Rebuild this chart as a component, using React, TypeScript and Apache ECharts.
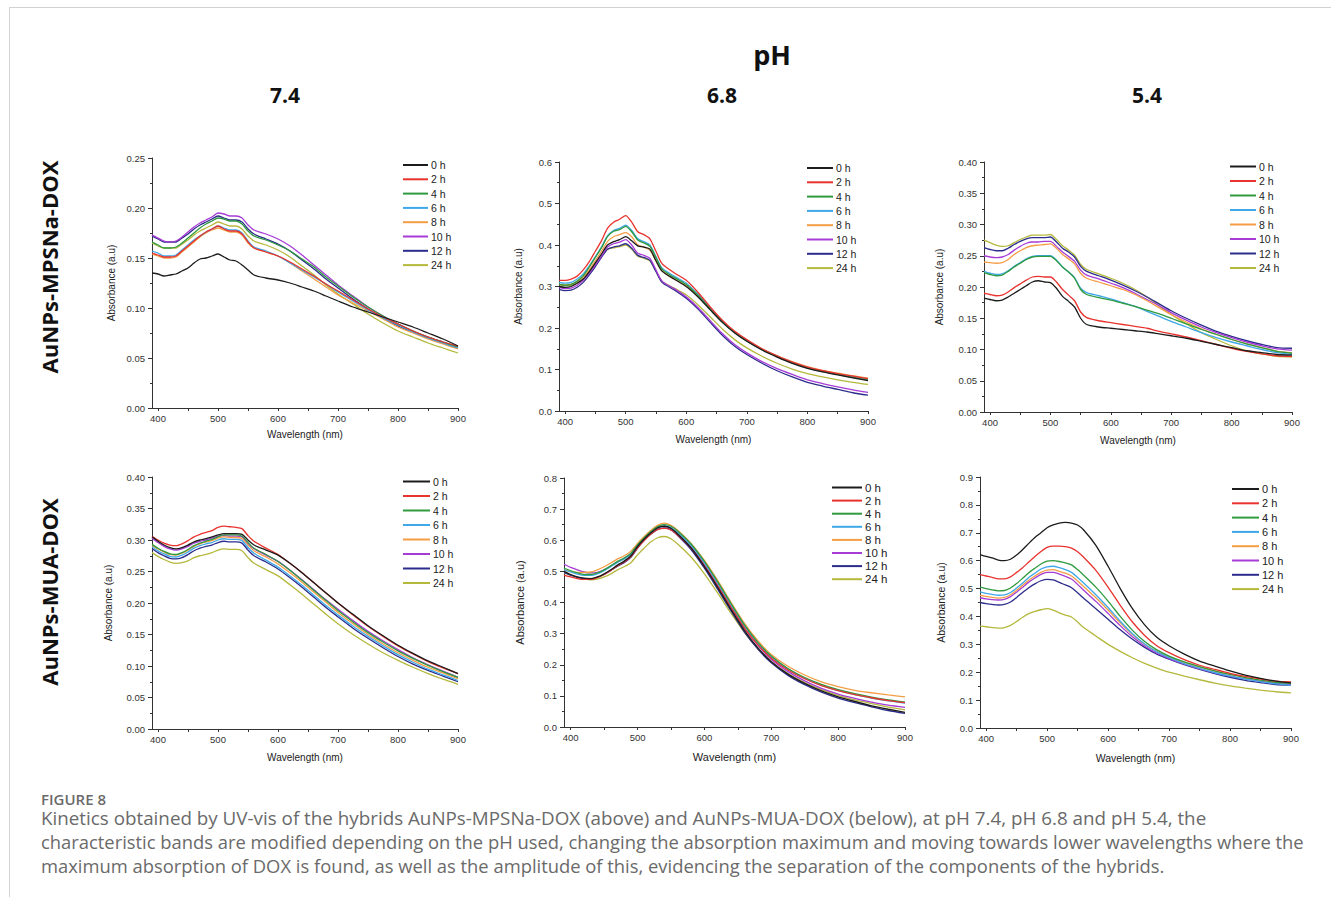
import React, { useEffect, useRef } from "react";
import * as echarts from "echarts";

// ---------- DATA ----------
const wavelengths = [390, 400, 410, 420, 430, 440, 450, 460, 470, 480, 490, 500, 510, 520, 530, 540, 550, 560, 580, 600, 620, 640, 660, 680, 700, 725, 750, 775, 800, 825, 850, 875, 900];
const timeLabels = ["0 h", "2 h", "4 h", "6 h", "8 h", "10 h", "12 h", "24 h"];
const xTickLabels = [400, 500, 600, 700, 800, 900];
const xTicks = [400, 450, 500, 550, 600, 650, 700, 750, 800, 850, 900];
const columnLabels = ["7.4", "6.8", "5.4"];
const rowLabels = ["AuNPs-MPSNa-DOX", "AuNPs-MUA-DOX"];

// AuNPs-MPSNa-DOX, pH 7.4 (order: 0,2,4,6,8,10,12,24 h)
const mpsnaPH74 = [
  [0.135, 0.134, 0.132, 0.133, 0.134, 0.137, 0.140, 0.145, 0.149, 0.150, 0.152, 0.154, 0.151, 0.148, 0.147, 0.143, 0.138, 0.133, 0.130, 0.128, 0.125, 0.121, 0.117, 0.112, 0.107, 0.101, 0.096, 0.091, 0.086, 0.081, 0.075, 0.069, 0.062],
  [0.155, 0.153, 0.151, 0.151, 0.152, 0.157, 0.162, 0.167, 0.172, 0.176, 0.179, 0.182, 0.179, 0.177, 0.177, 0.174, 0.166, 0.160, 0.156, 0.152, 0.146, 0.139, 0.132, 0.124, 0.117, 0.108, 0.099, 0.091, 0.084, 0.077, 0.071, 0.066, 0.062],
  [0.166, 0.163, 0.160, 0.160, 0.161, 0.165, 0.170, 0.175, 0.180, 0.184, 0.187, 0.190, 0.189, 0.187, 0.187, 0.184, 0.177, 0.172, 0.168, 0.163, 0.157, 0.149, 0.141, 0.131, 0.122, 0.111, 0.101, 0.092, 0.084, 0.077, 0.071, 0.066, 0.061],
  [0.157, 0.155, 0.152, 0.152, 0.153, 0.158, 0.163, 0.168, 0.172, 0.176, 0.179, 0.182, 0.180, 0.178, 0.178, 0.175, 0.167, 0.161, 0.157, 0.152, 0.145, 0.138, 0.131, 0.124, 0.116, 0.107, 0.098, 0.090, 0.083, 0.076, 0.070, 0.065, 0.060],
  [0.154, 0.152, 0.150, 0.150, 0.151, 0.156, 0.161, 0.166, 0.171, 0.175, 0.178, 0.180, 0.178, 0.176, 0.176, 0.173, 0.165, 0.160, 0.156, 0.152, 0.145, 0.137, 0.129, 0.121, 0.113, 0.105, 0.097, 0.089, 0.081, 0.075, 0.069, 0.064, 0.059],
  [0.173, 0.170, 0.167, 0.166, 0.167, 0.171, 0.176, 0.181, 0.185, 0.188, 0.191, 0.195, 0.194, 0.192, 0.192, 0.190, 0.183, 0.178, 0.174, 0.169, 0.162, 0.153, 0.143, 0.133, 0.123, 0.112, 0.101, 0.092, 0.084, 0.077, 0.071, 0.066, 0.061],
  [0.172, 0.169, 0.166, 0.166, 0.166, 0.170, 0.174, 0.179, 0.183, 0.186, 0.189, 0.192, 0.190, 0.188, 0.188, 0.186, 0.179, 0.174, 0.169, 0.164, 0.157, 0.148, 0.139, 0.129, 0.120, 0.109, 0.099, 0.090, 0.082, 0.076, 0.070, 0.065, 0.060],
  [0.165, 0.162, 0.160, 0.160, 0.160, 0.164, 0.168, 0.173, 0.177, 0.180, 0.183, 0.186, 0.184, 0.182, 0.182, 0.179, 0.172, 0.167, 0.163, 0.158, 0.151, 0.142, 0.133, 0.123, 0.114, 0.104, 0.094, 0.085, 0.077, 0.071, 0.065, 0.060, 0.055],
];

// AuNPs-MPSNa-DOX, pH 6.8
const mpsnaPH68 = [
  [0.300, 0.298, 0.300, 0.308, 0.318, 0.336, 0.357, 0.378, 0.400, 0.408, 0.413, 0.420, 0.410, 0.398, 0.395, 0.390, 0.362, 0.337, 0.318, 0.300, 0.274, 0.243, 0.213, 0.188, 0.168, 0.147, 0.130, 0.115, 0.103, 0.094, 0.087, 0.080, 0.073],
  [0.315, 0.315, 0.318, 0.325, 0.340, 0.360, 0.385, 0.410, 0.440, 0.455, 0.462, 0.471, 0.455, 0.432, 0.425, 0.415, 0.385, 0.355, 0.333, 0.315, 0.285, 0.250, 0.218, 0.192, 0.172, 0.150, 0.133, 0.118, 0.106, 0.097, 0.090, 0.084, 0.078],
  [0.305, 0.303, 0.305, 0.313, 0.326, 0.347, 0.370, 0.393, 0.420, 0.433, 0.437, 0.445, 0.432, 0.412, 0.405, 0.397, 0.370, 0.342, 0.322, 0.305, 0.278, 0.245, 0.214, 0.189, 0.169, 0.148, 0.131, 0.116, 0.104, 0.095, 0.088, 0.081, 0.075],
  [0.310, 0.308, 0.310, 0.318, 0.330, 0.350, 0.372, 0.395, 0.422, 0.435, 0.440, 0.448, 0.435, 0.415, 0.408, 0.400, 0.372, 0.345, 0.325, 0.308, 0.280, 0.247, 0.215, 0.190, 0.170, 0.149, 0.132, 0.117, 0.105, 0.096, 0.089, 0.083, 0.077],
  [0.305, 0.303, 0.305, 0.312, 0.322, 0.340, 0.362, 0.385, 0.408, 0.420, 0.425, 0.430, 0.420, 0.400, 0.395, 0.388, 0.362, 0.338, 0.318, 0.302, 0.276, 0.245, 0.215, 0.190, 0.170, 0.150, 0.133, 0.119, 0.107, 0.098, 0.091, 0.085, 0.079],
  [0.298, 0.295, 0.296, 0.303, 0.315, 0.332, 0.352, 0.373, 0.395, 0.403, 0.407, 0.413, 0.400, 0.380, 0.375, 0.368, 0.340, 0.313, 0.295, 0.275, 0.248, 0.217, 0.186, 0.160, 0.140, 0.119, 0.102, 0.088, 0.075, 0.066, 0.058, 0.051, 0.045],
  [0.293, 0.290, 0.291, 0.298, 0.310, 0.328, 0.348, 0.370, 0.390, 0.395, 0.398, 0.403, 0.392, 0.375, 0.370, 0.363, 0.336, 0.310, 0.292, 0.272, 0.245, 0.213, 0.182, 0.156, 0.136, 0.115, 0.097, 0.082, 0.069, 0.060, 0.052, 0.044, 0.038],
  [0.305, 0.302, 0.303, 0.308, 0.318, 0.335, 0.354, 0.373, 0.390, 0.393, 0.396, 0.400, 0.390, 0.373, 0.368, 0.362, 0.337, 0.313, 0.296, 0.280, 0.255, 0.226, 0.197, 0.172, 0.152, 0.132, 0.115, 0.101, 0.090, 0.082, 0.075, 0.069, 0.064],
];

// AuNPs-MPSNa-DOX, pH 5.4
const mpsnaPH54 = [
  [0.182, 0.180, 0.178, 0.179, 0.184, 0.190, 0.196, 0.202, 0.208, 0.210, 0.208, 0.207, 0.198, 0.185, 0.177, 0.168, 0.150, 0.140, 0.136, 0.134, 0.132, 0.130, 0.128, 0.125, 0.122, 0.118, 0.113, 0.108, 0.103, 0.098, 0.095, 0.092, 0.091],
  [0.190, 0.188, 0.186, 0.187, 0.192, 0.199, 0.205, 0.211, 0.216, 0.217, 0.216, 0.216, 0.208, 0.196, 0.187, 0.178, 0.160, 0.151, 0.146, 0.143, 0.140, 0.137, 0.134, 0.129, 0.125, 0.120, 0.114, 0.108, 0.102, 0.097, 0.093, 0.090, 0.089],
  [0.223, 0.220, 0.218, 0.219, 0.225, 0.232, 0.238, 0.244, 0.248, 0.249, 0.249, 0.249, 0.242, 0.232, 0.224, 0.214, 0.196, 0.188, 0.183, 0.179, 0.174, 0.169, 0.163, 0.157, 0.150, 0.141, 0.132, 0.124, 0.116, 0.109, 0.103, 0.097, 0.094],
  [0.225, 0.222, 0.220, 0.221, 0.226, 0.233, 0.239, 0.245, 0.249, 0.250, 0.250, 0.250, 0.243, 0.232, 0.224, 0.215, 0.198, 0.191, 0.186, 0.181, 0.175, 0.169, 0.161, 0.153, 0.145, 0.136, 0.127, 0.119, 0.112, 0.106, 0.100, 0.095, 0.092],
  [0.240, 0.239, 0.238, 0.239, 0.244, 0.252, 0.258, 0.263, 0.266, 0.267, 0.268, 0.269, 0.262, 0.252, 0.245, 0.237, 0.222, 0.214, 0.208, 0.202, 0.196, 0.188, 0.178, 0.167, 0.156, 0.144, 0.133, 0.124, 0.116, 0.109, 0.103, 0.097, 0.095],
  [0.250, 0.248, 0.247, 0.248, 0.252, 0.259, 0.265, 0.270, 0.272, 0.272, 0.273, 0.273, 0.265, 0.256, 0.249, 0.241, 0.227, 0.219, 0.213, 0.206, 0.199, 0.190, 0.180, 0.170, 0.159, 0.147, 0.136, 0.127, 0.119, 0.112, 0.106, 0.101, 0.099],
  [0.263, 0.260, 0.258, 0.258, 0.262, 0.268, 0.273, 0.277, 0.279, 0.279, 0.279, 0.280, 0.272, 0.262, 0.256, 0.248, 0.233, 0.225, 0.218, 0.211, 0.203, 0.194, 0.184, 0.173, 0.162, 0.150, 0.139, 0.129, 0.121, 0.114, 0.108, 0.103, 0.102],
  [0.275, 0.271, 0.267, 0.265, 0.266, 0.271, 0.276, 0.280, 0.283, 0.283, 0.283, 0.284, 0.276, 0.266, 0.259, 0.251, 0.236, 0.228, 0.221, 0.214, 0.206, 0.196, 0.184, 0.170, 0.156, 0.141, 0.127, 0.116, 0.106, 0.098, 0.093, 0.089, 0.088],
];

// AuNPs-MUA-DOX, pH 7.4
const muaPH74 = [
  [0.305, 0.298, 0.292, 0.288, 0.286, 0.288, 0.292, 0.297, 0.300, 0.302, 0.305, 0.308, 0.310, 0.310, 0.310, 0.309, 0.300, 0.292, 0.284, 0.276, 0.263, 0.248, 0.232, 0.216, 0.200, 0.182, 0.164, 0.148, 0.133, 0.120, 0.108, 0.098, 0.088],
  [0.306, 0.300, 0.295, 0.292, 0.291, 0.294, 0.299, 0.305, 0.309, 0.312, 0.315, 0.320, 0.322, 0.321, 0.320, 0.318, 0.307, 0.298, 0.287, 0.277, 0.263, 0.248, 0.232, 0.216, 0.200, 0.181, 0.163, 0.147, 0.132, 0.119, 0.107, 0.097, 0.088],
  [0.293, 0.287, 0.282, 0.278, 0.277, 0.280, 0.285, 0.291, 0.295, 0.298, 0.301, 0.305, 0.308, 0.308, 0.308, 0.306, 0.296, 0.287, 0.277, 0.266, 0.252, 0.236, 0.220, 0.204, 0.188, 0.170, 0.153, 0.138, 0.124, 0.112, 0.101, 0.091, 0.082],
  [0.289, 0.283, 0.278, 0.274, 0.273, 0.276, 0.281, 0.287, 0.291, 0.294, 0.296, 0.300, 0.302, 0.301, 0.301, 0.299, 0.288, 0.279, 0.268, 0.257, 0.243, 0.228, 0.212, 0.196, 0.181, 0.163, 0.147, 0.132, 0.118, 0.106, 0.095, 0.086, 0.077],
  [0.291, 0.286, 0.281, 0.277, 0.276, 0.279, 0.284, 0.290, 0.294, 0.297, 0.299, 0.303, 0.305, 0.304, 0.304, 0.302, 0.292, 0.283, 0.273, 0.262, 0.248, 0.233, 0.217, 0.201, 0.185, 0.167, 0.150, 0.135, 0.121, 0.109, 0.098, 0.089, 0.080],
  [0.303, 0.296, 0.290, 0.286, 0.284, 0.286, 0.290, 0.295, 0.298, 0.300, 0.303, 0.306, 0.307, 0.306, 0.306, 0.305, 0.294, 0.286, 0.276, 0.266, 0.252, 0.237, 0.221, 0.205, 0.190, 0.172, 0.155, 0.140, 0.126, 0.113, 0.102, 0.092, 0.082],
  [0.286, 0.280, 0.275, 0.271, 0.270, 0.272, 0.277, 0.283, 0.287, 0.290, 0.292, 0.296, 0.298, 0.297, 0.297, 0.295, 0.284, 0.275, 0.265, 0.254, 0.240, 0.225, 0.209, 0.193, 0.178, 0.160, 0.144, 0.129, 0.115, 0.103, 0.093, 0.084, 0.075],
  [0.280, 0.274, 0.269, 0.265, 0.263, 0.264, 0.267, 0.272, 0.275, 0.277, 0.280, 0.284, 0.286, 0.285, 0.285, 0.283, 0.272, 0.263, 0.253, 0.243, 0.229, 0.214, 0.198, 0.182, 0.167, 0.150, 0.135, 0.121, 0.109, 0.098, 0.088, 0.079, 0.071],
];

// AuNPs-MUA-DOX, pH 6.8
const muaPH68 = [
  [0.500, 0.490, 0.482, 0.478, 0.477, 0.482, 0.492, 0.505, 0.520, 0.533, 0.550, 0.580, 0.604, 0.624, 0.640, 0.645, 0.638, 0.620, 0.575, 0.515, 0.448, 0.377, 0.310, 0.254, 0.210, 0.170, 0.140, 0.116, 0.097, 0.082, 0.068, 0.057, 0.047],
  [0.488, 0.482, 0.477, 0.474, 0.474, 0.480, 0.490, 0.503, 0.518, 0.530, 0.548, 0.576, 0.600, 0.620, 0.634, 0.638, 0.633, 0.617, 0.575, 0.518, 0.453, 0.384, 0.318, 0.264, 0.221, 0.183, 0.155, 0.133, 0.117, 0.104, 0.094, 0.085, 0.078],
  [0.510, 0.502, 0.495, 0.490, 0.490, 0.495, 0.505, 0.518, 0.532, 0.543, 0.558, 0.585, 0.608, 0.628, 0.644, 0.650, 0.645, 0.630, 0.588, 0.532, 0.466, 0.396, 0.328, 0.272, 0.228, 0.188, 0.159, 0.137, 0.120, 0.107, 0.096, 0.087, 0.080],
  [0.505, 0.498, 0.491, 0.487, 0.487, 0.492, 0.502, 0.515, 0.529, 0.540, 0.555, 0.582, 0.605, 0.625, 0.640, 0.646, 0.641, 0.625, 0.583, 0.527, 0.461, 0.391, 0.324, 0.268, 0.224, 0.185, 0.156, 0.134, 0.117, 0.104, 0.093, 0.084, 0.077],
  [0.505, 0.500, 0.497, 0.497, 0.498, 0.505, 0.515, 0.527, 0.540, 0.550, 0.565, 0.590, 0.612, 0.632, 0.648, 0.655, 0.648, 0.632, 0.590, 0.535, 0.470, 0.400, 0.333, 0.277, 0.233, 0.195, 0.167, 0.145, 0.130, 0.118, 0.110, 0.103, 0.097],
  [0.523, 0.513, 0.505, 0.498, 0.495, 0.497, 0.505, 0.517, 0.530, 0.542, 0.557, 0.583, 0.606, 0.626, 0.641, 0.645, 0.639, 0.622, 0.579, 0.521, 0.455, 0.385, 0.318, 0.262, 0.217, 0.178, 0.148, 0.124, 0.106, 0.092, 0.080, 0.070, 0.063],
  [0.497, 0.488, 0.481, 0.477, 0.476, 0.481, 0.490, 0.503, 0.517, 0.528, 0.545, 0.575, 0.600, 0.620, 0.635, 0.640, 0.633, 0.615, 0.570, 0.510, 0.442, 0.372, 0.305, 0.250, 0.206, 0.166, 0.136, 0.112, 0.093, 0.078, 0.065, 0.053, 0.044],
  [0.495, 0.488, 0.481, 0.476, 0.473, 0.475, 0.482, 0.492, 0.505, 0.515, 0.528, 0.553, 0.575, 0.595, 0.608, 0.612, 0.605, 0.588, 0.546, 0.492, 0.430, 0.365, 0.303, 0.252, 0.210, 0.172, 0.143, 0.120, 0.101, 0.087, 0.075, 0.064, 0.055],
];

// AuNPs-MUA-DOX, pH 5.4
const muaPH54 = [
  [0.622, 0.615, 0.610, 0.602, 0.600, 0.605, 0.620, 0.640, 0.662, 0.683, 0.700, 0.718, 0.728, 0.735, 0.737, 0.735, 0.728, 0.710, 0.655, 0.580, 0.500, 0.428, 0.370, 0.325, 0.295, 0.265, 0.240, 0.222, 0.205, 0.190, 0.178, 0.168, 0.162],
  [0.550, 0.545, 0.540, 0.535, 0.535, 0.542, 0.558, 0.575, 0.595, 0.615, 0.633, 0.648, 0.652, 0.652, 0.650, 0.645, 0.632, 0.612, 0.565, 0.505, 0.440, 0.380, 0.332, 0.295, 0.270, 0.245, 0.225, 0.210, 0.196, 0.185, 0.176, 0.168, 0.165],
  [0.505, 0.500, 0.495, 0.492, 0.493, 0.502, 0.518, 0.537, 0.557, 0.573, 0.588, 0.598, 0.600, 0.597, 0.592, 0.585, 0.568, 0.548, 0.505, 0.455, 0.400, 0.350, 0.310, 0.280, 0.258, 0.237, 0.220, 0.205, 0.192, 0.181, 0.172, 0.164, 0.160],
  [0.488, 0.483, 0.479, 0.476, 0.477, 0.486, 0.502, 0.520, 0.540, 0.555, 0.570, 0.578, 0.580, 0.575, 0.568, 0.558, 0.540, 0.520, 0.478, 0.432, 0.383, 0.338, 0.301, 0.273, 0.252, 0.231, 0.214, 0.199, 0.186, 0.175, 0.166, 0.158, 0.153],
  [0.476, 0.472, 0.468, 0.466, 0.468, 0.478, 0.494, 0.512, 0.530, 0.545, 0.558, 0.566, 0.568, 0.562, 0.555, 0.545, 0.527, 0.507, 0.467, 0.423, 0.377, 0.335, 0.300, 0.274, 0.255, 0.235, 0.218, 0.204, 0.192, 0.181, 0.172, 0.166, 0.163],
  [0.467, 0.463, 0.460, 0.459, 0.461, 0.471, 0.487, 0.505, 0.523, 0.538, 0.551, 0.558, 0.558, 0.552, 0.544, 0.534, 0.515, 0.494, 0.454, 0.411, 0.367, 0.327, 0.294, 0.268, 0.249, 0.229, 0.212, 0.198, 0.186, 0.176, 0.168, 0.160, 0.157],
  [0.450, 0.446, 0.443, 0.441, 0.443, 0.452, 0.468, 0.486, 0.503, 0.517, 0.528, 0.533, 0.531, 0.522, 0.513, 0.503, 0.485, 0.465, 0.428, 0.390, 0.352, 0.318, 0.289, 0.265, 0.247, 0.227, 0.210, 0.195, 0.182, 0.171, 0.163, 0.156, 0.154],
  [0.365, 0.363, 0.360, 0.358, 0.360, 0.368, 0.382, 0.397, 0.410, 0.418, 0.424, 0.428, 0.423, 0.413, 0.405, 0.398, 0.380, 0.360, 0.330, 0.300, 0.275, 0.252, 0.232, 0.215, 0.200, 0.186, 0.173, 0.161, 0.151, 0.143, 0.136, 0.130, 0.126],
];

const panelData = [mpsnaPH74, mpsnaPH68, mpsnaPH54, muaPH74, muaPH68, muaPH54];
const yMaxes = [0.25, 0.6, 0.4, 0.4, 0.8, 0.9];
const yIntervals = [0.05, 0.1, 0.05, 0.05, 0.1, 0.1];
const yDecimals = [2, 1, 2, 2, 1, 1];

// ---------- STYLE / LAYOUT ----------
const lineColors = ["#1c1c1c", "#e8332f", "#2f9a3e", "#3ea8e8", "#f59d45", "#a63bd6", "#2c2c8c", "#b4b93c"];
const layouts = [
  { left: 152, top: 158, width: 306, height: 250, lgLeft: 403, lgTop: 159, lgGap: 2.3, lgW: 25, lgFont: 10.5, yGap: 36, xGap: 21, nameFont: 10 },
  { left: 559, top: 162, width: 309, height: 249, lgLeft: 807, lgTop: 162, lgGap: 2.3, lgW: 26, lgFont: 10.5, yGap: 36, xGap: 23, nameFont: 10 },
  { left: 984, top: 162, width: 308, height: 250, lgLeft: 1230, lgTop: 160.5, lgGap: 2.5, lgW: 26, lgFont: 10.5, yGap: 40, xGap: 23, nameFont: 10 },
  { left: 152, top: 477, width: 306, height: 252, lgLeft: 403, lgTop: 475.5, lgGap: 2.5, lgW: 27, lgFont: 10.5, yGap: 39, xGap: 23, nameFont: 10 },
  { left: 564, top: 478, width: 341, height: 249, lgLeft: 832, lgTop: 481.5, lgGap: 1.1, lgW: 30, lgFont: 11.5, yGap: 39, xGap: 24, nameFont: 11 },
  { left: 980, top: 477, width: 311, height: 251, lgLeft: 1232, lgTop: 483, lgGap: 2.3, lgW: 27, lgFont: 11, yGap: 34, xGap: 24, nameFont: 10.5 },
];
const axisFont = "'Liberation Sans', Arial, sans-serif";
const headFont = "'Open Sans', 'Noto Sans', sans-serif";

const captionLines = [
  "Kinetics obtained by UV-vis of the hybrids AuNPs-MPSNa-DOX (above) and AuNPs-MUA-DOX (below), at pH 7.4, pH 6.8 and pH 5.4, the",
  "characteristic bands are modified depending on the pH used, changing the absorption maximum and moving towards lower wavelengths where the",
  "maximum absorption of DOX is found, as well as the amplitude of this, evidencing the separation of the components of the hybrids.",
];
const captionScale = [1.075, 1.05, 1.05];

export default function App() {
  const ref = useRef<HTMLDivElement>(null);
  useEffect(() => {
    document.body.style.margin = "0";
    if (!ref.current) return;
    const chart = echarts.init(ref.current, undefined, { renderer: "svg" });

    const grids: any[] = [];
    const xAxes: any[] = [];
    const yAxes: any[] = [];
    const legends: any[] = [];
    const series: any[] = [];

    layouts.forEach((L, p) => {
      grids.push({ left: L.left, top: L.top, width: L.width, height: L.height, containLabel: false, outerBoundsMode: "none" });
      xAxes.push({
        type: "value",
        gridIndex: p,
        min: 390,
        max: 900,
        name: "Wavelength (nm)",
        nameLocation: "middle",
        nameGap: L.xGap,
        nameTextStyle: { fontFamily: axisFont, fontSize: L.nameFont, color: "#222" },
        axisLine: { show: true, onZero: false, lineStyle: { color: "#333", width: 1 } },
        axisTick: { show: true, inside: false, length: 3, customValues: xTicks, lineStyle: { color: "#333" } },
        axisLabel: { customValues: xTickLabels, fontFamily: axisFont, fontSize: 9.5, color: "#333", margin: 5, showMinLabel: true, showMaxLabel: true },
        splitLine: { show: false },
      });
      yAxes.push({
        type: "value",
        gridIndex: p,
        min: 0,
        max: yMaxes[p],
        interval: yIntervals[p],
        name: "Absorbance (a.u)",
        nameLocation: "middle",
        nameGap: L.yGap,
        nameTextStyle: { fontFamily: axisFont, fontSize: L.nameFont, color: "#222" },
        axisLine: { show: true, onZero: false, lineStyle: { color: "#333", width: 1 } },
        axisTick: { show: true, inside: false, length: 4, lineStyle: { color: "#333" } },
        minorTick: { show: true, splitNumber: 2, length: 2, lineStyle: { color: "#333" } },
        axisLabel: {
          fontFamily: axisFont,
          fontSize: 9.5,
          color: "#333",
          margin: 7,
          formatter: (v: number) => v.toFixed(yDecimals[p]),
        },
        splitLine: { show: false },
      });
      legends.push({
        orient: "vertical",
        left: L.lgLeft,
        top: L.lgTop,
        itemWidth: L.lgW,
        itemHeight: 2,
        itemGap: L.lgGap,
        icon: "rect",
        padding: 0,
        selectedMode: false,
        data: timeLabels,
        textStyle: { fontFamily: axisFont, fontSize: L.lgFont, color: "#222", lineHeight: 12, padding: [0, 0, 0, -2] },
      });
      panelData[p].forEach((vals, s) => {
        series.push({
          type: "line",
          name: timeLabels[s],
          xAxisIndex: p,
          yAxisIndex: p,
          data: wavelengths.map((w, i) => [w, vals[i]]),
          showSymbol: false,
          symbol: "none",
          smooth: 0.25,
          lineStyle: { color: lineColors[s], width: 1.3 },
          itemStyle: { color: lineColors[s] },
          z: 2 + (7 - s),
        });
      });
    });

    const graphic: any[] = [
      { type: "line", shape: { x1: 9, y1: 7.5, x2: 1331, y2: 7.5 }, style: { stroke: "#d2d2d2", lineWidth: 1 } },
      { type: "line", shape: { x1: 9.5, y1: 7, x2: 9.5, y2: 897 }, style: { stroke: "#d2d2d2", lineWidth: 1 } },
      { type: "text", x: 772, y: 54, style: { text: "pH", font: `bold 27px ${headFont}`, fill: "#111", align: "center", verticalAlign: "middle" } },
      { type: "text", x: 285, y: 95, style: { text: columnLabels[0], font: `bold 21px ${headFont}`, fill: "#111", align: "center", verticalAlign: "middle" } },
      { type: "text", x: 722, y: 95, style: { text: columnLabels[1], font: `bold 21px ${headFont}`, fill: "#111", align: "center", verticalAlign: "middle" } },
      { type: "text", x: 1147, y: 95, style: { text: columnLabels[2], font: `bold 21px ${headFont}`, fill: "#111", align: "center", verticalAlign: "middle" } },
      { type: "text", x: 49, y: 267, rotation: Math.PI / 2, style: { text: rowLabels[0], font: `bold 22px ${headFont}`, fill: "#111", align: "center", verticalAlign: "middle" } },
      { type: "text", x: 49, y: 592, rotation: Math.PI / 2, style: { text: rowLabels[1], font: `bold 22px ${headFont}`, fill: "#111", align: "center", verticalAlign: "middle" } },
      { type: "text", x: 41, y: 799, style: { text: "FIGURE 8", font: `600 15px ${headFont}`, fill: "#6a6a6a", align: "left", verticalAlign: "middle" } },
    ];
    captionLines.forEach((t, i) => {
      graphic.push({ type: "text", x: 41, y: 818 + i * 24, scaleX: captionScale[i], style: { text: t, font: `400 17.5px ${headFont}`, fill: "#6a6a6a", align: "left", verticalAlign: "middle" } });
    });

    chart.setOption({
      animation: false,
      backgroundColor: "#ffffff",
      grid: grids,
      xAxis: xAxes,
      yAxis: yAxes,
      legend: legends,
      series,
      graphic,
    });
    return () => chart.dispose();
  }, []);
  return <div ref={ref} style={{ width: 1331, height: 897 }} />;
}
